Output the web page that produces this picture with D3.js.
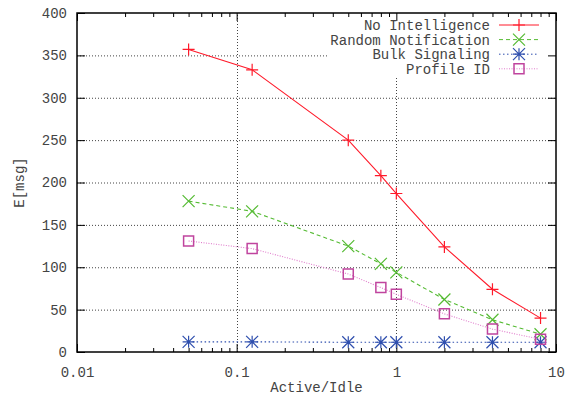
<!DOCTYPE html>
<html>
<head>
<meta charset="utf-8">
<script src="https://cdn.jsdelivr.net/npm/d3@7"></script>
<style>
  body { margin: 0; background: #fff; }
  text { font-family: "Liberation Mono", monospace; font-size: 14px; fill: #444; }
</style>
</head>
<body>
<svg id="chart" width="573" height="399"></svg>
<script>
const ratio = [0.05, 0.125, 0.5, 0.8, 1, 2, 4, 8]
const noIntel = [357, 333, 250, 208, 187, 124, 74, 40]
const randomNotif = [178, 166, 125, 104, 94, 62, 38, 21]
const bulkSignal = [12, 12, 11.5, 11.5, 11.5, 11.5, 11.5, 11.5]
const profileId = [131, 122, 92, 76, 68, 45, 27, 15]
const seriesNames = ['No Intelligence', 'Random Notification', 'Bulk Signaling', 'Profile ID']
const xTicks = [0.01, 0.1, 1, 10]
const yTicks = [0, 50, 100, 150, 200, 250, 300, 350, 400]

const margin = { left: 77, right: 17, top: 13, bottom: 47 }
const width = 573, height = 399
const svg = d3.select('#chart')

const x = d3.scaleLog().domain([0.01, 10]).range([margin.left, width - margin.right])
const y = d3.scaleLinear().domain([0, 400]).range([height - margin.bottom, margin.top])

// grid
let grid = svg.append('g').attr('stroke', '#444').attr('stroke-dasharray', '1,2')
grid.selectAll('.hg').data(yTicks.slice(1, -1)).enter().append('line')
  .attr('x1', x(0.01)).attr('x2', x(10))
  .attr('y1', d => y(d) + 0.5).attr('y2', d => y(d) + 0.5)
grid.selectAll('.vg').data([0.1, 1]).enter().append('line')
  .attr('x1', d => Math.round(x(d)) + 0.5).attr('x2', d => Math.round(x(d)) + 0.5)
  .attr('y1', y(0)).attr('y2', y(400))
// key area blanks the grid
svg.append('rect').attr('x', 327).attr('y', y(400) + 1).attr('width', x(10) - 328).attr('height', 62).attr('fill', '#fff')

// minor ticks on the log axis
let minor = []
for (let p = 0.01; p < 10; p *= 10) {
  for (let k = 2; k <= 9; k++) minor.push(+(p * k).toPrecision(3))
}

svg.append('g').attr('transform', `translate(0,${y(0)})`)
  .call(d3.axisBottom(x).tickValues(xTicks).tickFormat(d => d).tickSize(-8).tickPadding(15))
svg.append('g').attr('transform', `translate(0,${y(0)})`)
  .call(d3.axisBottom(x).tickValues(minor).tickFormat('').tickSize(-4))
svg.append('g').attr('transform', `translate(0,${y(400)})`)
  .call(d3.axisTop(x).tickValues(xTicks).tickFormat('').tickSize(-8))
svg.append('g').attr('transform', `translate(0,${y(400)})`)
  .call(d3.axisTop(x).tickValues(minor).tickFormat('').tickSize(-4))
svg.append('g').attr('transform', `translate(${x(0.01)},0)`)
  .call(d3.axisLeft(y).tickValues(yTicks).tickSize(-8).tickPadding(10))
svg.append('g').attr('transform', `translate(${x(10)},0)`)
  .call(d3.axisRight(y).tickValues(yTicks).tickFormat('').tickSize(-8))

svg.selectAll('.domain').remove()
svg.selectAll('.tick line').attr('stroke', '#000')
svg.selectAll('.tick text').style('font-family', '"Liberation Mono", monospace').style('font-size', '14px').attr('fill', '#444')

svg.append('rect')
  .attr('x', x(0.01)).attr('y', y(400))
  .attr('width', x(10) - x(0.01)).attr('height', y(0) - y(400))
  .attr('fill', 'none').attr('stroke', '#000').attr('stroke-width', 1.5)

// axis titles
svg.append('text').attr('x', (x(0.01) + x(10)) / 2).attr('y', 392)
  .attr('text-anchor', 'middle').text('Active/Idle')
svg.append('text').attr('transform', `translate(24,${(y(0) + y(400)) / 2}) rotate(-90)`)
  .attr('text-anchor', 'middle').text('E[msg]')

// series
const series = [
  { name: seriesNames[0], values: noIntel, color: '#ff1a2a', markColor: '#ff1a2a', dash: null, mark: 'plus' },
  { name: seriesNames[1], values: randomNotif, color: '#55bb33', markColor: '#55bb33', dash: '4,3', mark: 'cross' },
  { name: seriesNames[2], values: bulkSignal, color: '#2f4fae', markColor: '#2f4fae', dash: '1.5,2.5', mark: 'star' },
  { name: seriesNames[3], values: profileId, color: '#e07ccc', markColor: '#c0449e', dash: '1,1.5', mark: 'box' }
]

const markPath = (type, s) => {
  if (type === 'plus') return `M${-s},0H${s}M0,${-s}V${s}`
  if (type === 'cross') return `M${-s},${-s}L${s},${s}M${-s},${s}L${s},${-s}`
  if (type === 'star') return `M${-s},0H${s}M0,${-s}V${s}M${-s},${-s}L${s},${s}M${-s},${s}L${s},${-s}`
  return `M${-s},${-s}H${s}V${s}H${-s}Z`
}

const line = d3.line()

series.forEach(sr => {
  let pts = ratio.map((r, i) => [x(r), y(sr.values[i])])
  svg.append('path').attr('d', line(pts))
    .attr('fill', 'none').attr('stroke', sr.color).attr('stroke-width', 1.1)
    .attr('stroke-dasharray', sr.dash)
  svg.selectAll(null).data(pts).enter().append('path')
    .attr('transform', d => `translate(${d[0]},${d[1]})`)
    .attr('d', markPath(sr.mark, sr.mark === 'box' ? 5 : 6))
    .attr('fill', 'none').attr('stroke', sr.markColor).attr('stroke-width', sr.mark === 'box' ? 1.5 : 1.2)
})

// key
let key = svg.append('g')
series.forEach((sr, i) => {
  let ky = 25 + i * 14.6
  key.append('text').attr('x', 490).attr('y', ky + 5).attr('text-anchor', 'end').text(sr.name)
  key.append('line').attr('x1', 499).attr('x2', 539).attr('y1', ky).attr('y2', ky)
    .attr('stroke', sr.color).attr('stroke-dasharray', sr.dash)
  key.append('path').attr('transform', `translate(519,${ky})`)
    .attr('d', markPath(sr.mark, sr.mark === 'box' ? 5 : 6))
    .attr('fill', 'none').attr('stroke', sr.markColor).attr('stroke-width', sr.mark === 'box' ? 1.5 : 1.2)
})
</script>
</body>
</html>
